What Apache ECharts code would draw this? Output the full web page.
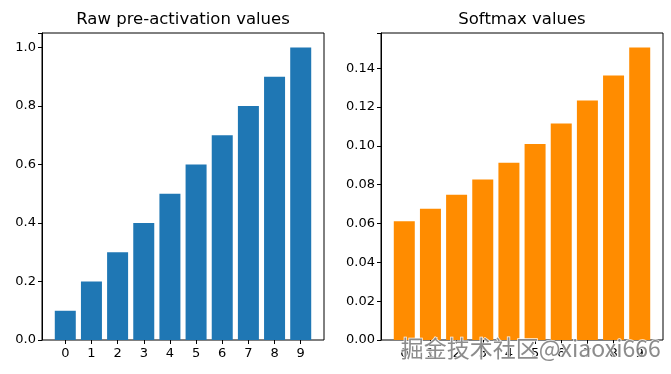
<!DOCTYPE html>
<html><head><meta charset="utf-8">
<script src="https://cdn.jsdelivr.net/npm/echarts@6/dist/echarts.min.js"></script>
<style>html,body{margin:0;padding:0;background:#fff}#c{width:671px;height:374px}</style>
</head><body><div id="c"></div>
<script>
const categories = ['0','1','2','3','4','5','6','7','8','9'];
const rawValues = [0.1,0.2,0.3,0.4,0.5,0.6,0.7,0.8,0.9,1.0];
const softmaxValues = [0.0612,0.0676,0.0748,0.0826,0.0913,0.1009,0.1115,0.1233,0.1362,0.1506];
const rawTicks = [0,0.2,0.4,0.6,0.8,1.0];
const softTicks = [0,0.02,0.04,0.06,0.08,0.10,0.12,0.14];
const titles = ['Raw pre-activation values','Softmax values'];

const font = 'DejaVu Sans';
const chart = echarts.init(document.getElementById('c'), null, {renderer:'canvas'});
// frame grids (matplotlib axes boxes)
const frames = [
  {left:42, top:33, width:282, height:307},
  {left:381, top:33, width:282, height:307}
];
// matplotlib x-limits: bars span -0.4..9.4, 5% margin -> -0.89..9.89
const xMin = -0.89, xMax = 9.89;
const dataGrids = frames.map(f=>{
  const s = f.width/(xMax-xMin);
  return {left: f.left + (-0.5 - xMin)*s, top: f.top, width: 10*s, height: f.height};
});
const line = {show:true, onZero:false, lineStyle:{color:'#000', width:1}};
const tick = {show:true, inside:false, length:4, lineStyle:{color:'#000', width:1}};
const yMax = [1.05, 0.1581];
const ySteps = [0.2, 0.02];
const yTicks = [rawTicks, softTicks];
const yDec = [1, 2];

const grid = frames.map(f=>Object.assign({show:true, borderColor:'#000', borderWidth:1, backgroundColor:'transparent'}, f))
  .concat(dataGrids.map(g=>Object.assign({show:false}, g)));

const xAxis = [0,1].map(i=>({type:'value', gridIndex:i, min:0, max:1, show:false}))
  .concat([0,1].map(i=>({type:'category', gridIndex:2+i, data:categories, boundaryGap:true,
    axisLine:{show:false, onZero:false},
    axisTick:{show:true, alignWithLabel:true, length:4, lineStyle:{color:'#000', width:1}},
    axisLabel:{color:'#000', fontFamily:font, fontSize:13, margin:7, interval:0},
    splitLine:{show:false}})));

const yAxis = [0,1].map(i=>({type:'value', gridIndex:i, min:0, max:yMax[i], interval:ySteps[i],
    splitLine:{show:false}, axisLine:line, axisTick:tick,
    axisLabel:{color:'#000', fontFamily:font, fontSize:13, margin:6,
      formatter:v=>yTicks[i].some(t=>Math.abs(t-v)<1e-9) ? v.toFixed(yDec[i]) : ''}}))
  .concat([0,1].map(i=>({type:'value', gridIndex:2+i, min:0, max:yMax[i], show:false, splitLine:{show:false}})));

chart.setOption({
  animation:false,
  backgroundColor:'#fff',
  title: titles.map((t,i)=>({text:t, left:frames[i].left+frames[i].width/2, top:11, textAlign:'center', padding:0,
    textStyle:{fontFamily:font, fontSize:16.5, fontWeight:'normal', color:'#000'}})),
  grid: grid,
  xAxis: xAxis,
  yAxis: yAxis,
  series:[
    {type:'bar', xAxisIndex:2, yAxisIndex:2, data:rawValues, barWidth:21, itemStyle:{color:'#1f77b4'}},
    {type:'bar', xAxisIndex:3, yAxisIndex:3, data:softmaxValues, barWidth:21, itemStyle:{color:'#ff8c00'}}
  ],
  graphic:[{type:'text', left:400, top:336, z:100,
    style:{text:'掘金技术社区@xiaoxi666', fontFamily:'Noto Sans CJK SC', fontSize:23, fill:'rgba(120,120,120,0.85)', stroke:'rgba(255,255,255,0.9)', lineWidth:1.5}}]
});
</script></body></html>
